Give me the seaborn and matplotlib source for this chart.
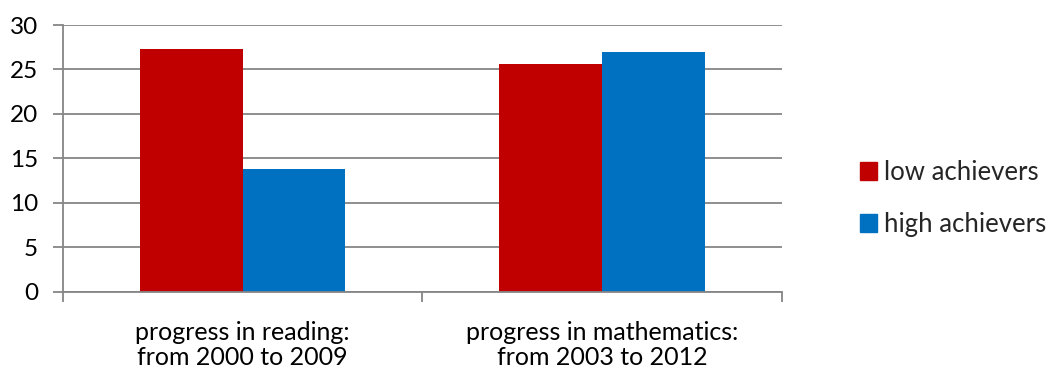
import pandas as pd
import seaborn as sns
import matplotlib.pyplot as plt
from matplotlib.ticker import FixedLocator

categories = ["progress in reading:\nfrom 2000 to 2009",
              "progress in mathematics:\nfrom 2003 to 2012"]
groups = ["low achievers", "high achievers"]
low_values = [27.3, 25.6]
high_values = [13.8, 27.0]
colors = ["#C00000", "#0070C0"]
y_ticks = [0, 5, 10, 15, 20, 25, 30]

df = pd.DataFrame({
    "category": categories * 2,
    "group": [groups[0]] * 2 + [groups[1]] * 2,
    "value": low_values + high_values,
})

sns.set_style("white")
plt.rcParams["font.family"] = ["Lato", "DejaVu Sans"]

fig = plt.figure(figsize=(10.57, 3.76), dpi=100)
ax = fig.add_axes([0.0596, 0.2242, 0.68, 0.7093])

sns.barplot(data=df, x="category", y="value", hue="group", palette=colors,
            width=0.572, gap=0, saturation=1, ax=ax, errorbar=None,
            linewidth=0)

ax.set_xlim(-0.5, 1.5)
ax.set_ylim(0, 30)
ax.set_yticks(y_ticks)
ax.set_xlabel("")
ax.set_ylabel("")

grid_color = "#868686"
ax.yaxis.grid(True, color=grid_color, linewidth=1.3)
ax.set_axisbelow(True)
for side in ["top", "right"]:
    ax.spines[side].set_visible(False)
for side in ["left", "bottom"]:
    ax.spines[side].set_color(grid_color)
    ax.spines[side].set_linewidth(1.3)

fs = 18.5
ax.tick_params(axis="y", left=True, length=7, width=1.3, color=grid_color,
               labelsize=17.5, pad=11, labelcolor="black")
ax.tick_params(axis="x", which="major", length=0, labelsize=18, pad=21,
               labelcolor="black")
ax.xaxis.set_minor_locator(FixedLocator([-0.5, 0.5, 1.5]))
ax.tick_params(axis="x", which="minor", bottom=True, length=7, width=1.3,
               color=grid_color)
for lbl in ax.get_xticklabels():
    lbl.set_linespacing(1.13)

ax.get_legend().remove()
handles = [plt.Rectangle((0, 0), 1, 1, color=c) for c in colors]
fig.legend(handles, groups, loc="center left", bbox_to_anchor=(0.8136, 0.472),
           frameon=False, fontsize=fs, handlelength=0.65, handleheight=0.65,
           handletextpad=0.3, labelspacing=1.05, borderpad=0, borderaxespad=0)

fig.savefig("out.png", dpi=100)
